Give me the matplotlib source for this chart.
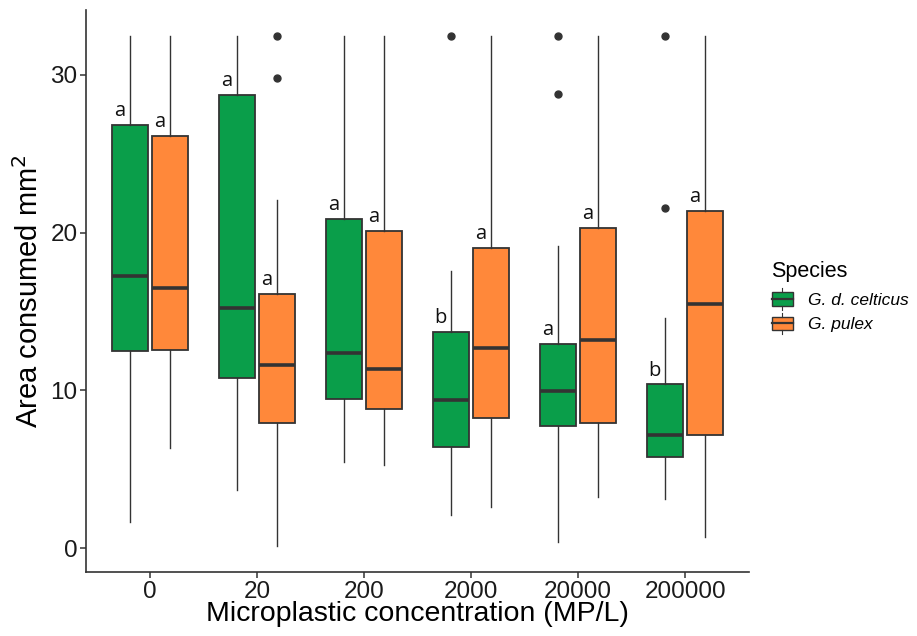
import matplotlib
matplotlib.use("Agg")
import matplotlib.pyplot as plt
from matplotlib.patches import Rectangle
from matplotlib.lines import Line2D
from matplotlib.legend_handler import HandlerBase

categories = ["0", "20", "200", "2000", "20000", "200000"]
species = ["G. d. celticus", "G. pulex"]
colors = ["#0A9E4A", "#FF883A"]

# five-number summaries per species: [low whisker, Q1, median, Q3, high whisker]
celticus_low = [1.69, 3.72, 5.50, 2.09, 0.40, 3.11]
celticus_q1 = [12.49, 10.80, 9.44, 6.42, 7.78, 5.81]
celticus_med = [17.26, 15.21, 12.39, 9.37, 9.96, 7.19]
celticus_q3 = [26.84, 28.73, 20.86, 13.68, 12.93, 10.38]
celticus_high = [32.47, 32.47, 32.47, 17.55, 19.17, 14.56]
celticus_out = [[], [], [], [32.47], [32.47, 28.77], [32.47, 21.57]]
celticus_letters = ["a", "a", "a", "b", "a", "b"]

pulex_low = [6.38, 0.13, 5.27, 2.61, 3.28, 0.71]
pulex_q1 = [12.57, 7.97, 8.81, 8.24, 7.95, 7.18]
pulex_med = [16.51, 11.59, 11.34, 12.66, 13.18, 15.46]
pulex_q3 = [26.13, 16.09, 20.09, 19.02, 20.30, 21.36]
pulex_high = [32.47, 22.07, 32.47, 32.47, 32.47, 32.47]
pulex_out = [[], [32.47, 29.77], [], [], [], []]
pulex_letters = ["a", "a", "a", "a", "a", "a"]

edge = "#333333"

fig = plt.figure(figsize=(9.17, 6.36), dpi=100)
ax = fig.add_axes([0.0938, 0.100, 0.8171 - 0.0938, 0.985 - 0.100])

series = [
    (celticus_low, celticus_q1, celticus_med, celticus_q3, celticus_high, celticus_out, celticus_letters),
    (pulex_low, pulex_q1, pulex_med, pulex_q3, pulex_high, pulex_out, pulex_letters),
]
offsets = [-0.1875, 0.1875]
bw = 0.34

for si, (lo, q1, med, q3, hi, outs, letters) in enumerate(series):
    stats = []
    for i in range(len(categories)):
        stats.append(dict(whislo=lo[i], q1=q1[i], med=med[i], q3=q3[i], whishi=hi[i],
                          fliers=outs[i]))
    pos = [i + 1 + offsets[si] for i in range(len(categories))]
    ax.bxp(stats, positions=pos, widths=bw, patch_artist=True, showcaps=False,
           boxprops=dict(facecolor=colors[si], edgecolor=edge, linewidth=1.3),
           medianprops=dict(color=edge, linewidth=2.6, solid_capstyle="butt"),
           whiskerprops=dict(color=edge, linewidth=1.0),
           flierprops=dict(marker="o", markersize=5, markerfacecolor=edge,
                           markeredgecolor=edge, linestyle="none"),
           manage_ticks=False, zorder=2)
    for i in range(len(categories)):
        ax.text(pos[i] - 0.095, q3[i] + 0.25, letters[i], ha="center", va="bottom",
                fontsize=14.5, family="Open Sans", color="#111111")

ax.set_xlim(0.4, 6.6)
ax.set_ylim(-1.52, 34.12)
ax.set_xticks(range(1, len(categories) + 1))
ax.set_xticklabels(categories)
ax.set_yticks([0, 10, 20, 30])
for sp in ["top", "right"]:
    ax.spines[sp].set_visible(False)
for sp in ["left", "bottom"]:
    ax.spines[sp].set_color("#333333")
    ax.spines[sp].set_linewidth(1.2)
ax.tick_params(axis="both", colors="#333333", length=4, width=1.1, labelsize=17.5,
               labelcolor="#1a1a1a", pad=2)
for lab in ax.get_xticklabels() + ax.get_yticklabels():
    lab.set_family("Liberation Sans")

ax.set_xlabel("Microplastic concentration (MP/L)", fontsize=20.5, family="Liberation Sans",
              color="black", labelpad=-1)
ax.set_ylabel("Area consumed mm$^2$", fontsize=21, family="Liberation Sans",
              color="black", labelpad=5)


class BoxKeyHandler(HandlerBase):
    def create_artists(self, legend, orig_handle, xdescent, ydescent, width, height, fontsize, trans):
        fc = orig_handle.get_facecolor()
        x0 = -xdescent
        y0 = -ydescent
        bx = x0 + width * 0.05
        bwid = width * 0.9
        rect = Rectangle((bx, y0 + height * 0.1), bwid, height * 0.8, facecolor=fc,
                         edgecolor=edge, linewidth=1.0, transform=trans)
        cx = bx + bwid / 2
        med = Line2D([bx, bx + bwid], [y0 + height * 0.5] * 2, color=edge, linewidth=1.6,
                     transform=trans)
        w1 = Line2D([cx, cx], [y0 - height * 0.15, y0 + height * 0.1], color=edge,
                    linewidth=0.8, transform=trans)
        w2 = Line2D([cx, cx], [y0 + height * 0.9, y0 + height * 1.15], color=edge,
                    linewidth=0.8, transform=trans)
        return [rect, med, w1, w2]


handles = [Rectangle((0, 0), 1, 1, facecolor=c) for c in colors]
leg = fig.legend(handles, species, handler_map={Rectangle: BoxKeyHandler()},
                 loc="upper left", bbox_to_anchor=(0.8315, 0.603), frameon=False,
                 title="Species", title_fontproperties=dict(family="Liberation Sans", size=15.5),
                 prop=dict(family="Liberation Sans", style="italic", size=12.5),
                 handlelength=1.3, handleheight=1.1, handletextpad=0.8, labelspacing=0.42,
                 borderpad=0, alignment="left")
leg._legend_box.sep = 6

fig.savefig("out.png", dpi=100)
